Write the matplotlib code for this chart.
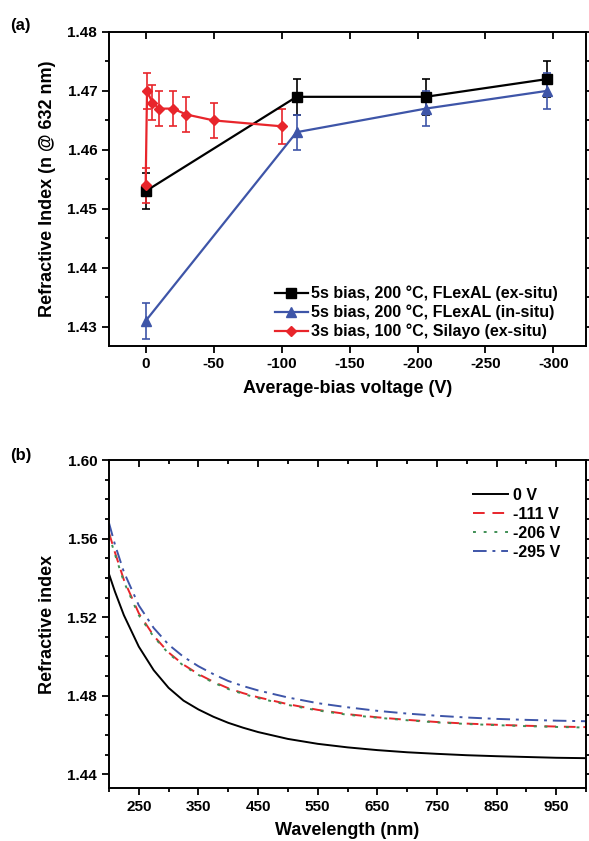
import matplotlib
matplotlib.use("Agg")
import matplotlib.pyplot as plt
from matplotlib.ticker import MultipleLocator, FixedLocator

plt.rcParams['font.family'] = ['Liberation Sans', 'DejaVu Sans']
plt.rcParams['font.weight'] = 'bold'
plt.rcParams['axes.unicode_minus'] = False

# ---------------- Panel (a) data ----------------
flexal_ex_v = [0, -111, -206, -295]
flexal_ex_n = [1.453, 1.469, 1.469, 1.472]
flexal_ex_err = [0.003, 0.003, 0.003, 0.003]

flexal_in_v = [0, -111, -206, -295]
flexal_in_n = [1.431, 1.463, 1.467, 1.470]
flexal_in_err = [0.003, 0.003, 0.003, 0.003]

silayo_v = [0, -1, -5, -10, -20, -30, -50, -100]
silayo_n = [1.454, 1.470, 1.468, 1.467, 1.467, 1.466, 1.465, 1.464]
silayo_err = [0.003, 0.003, 0.003, 0.003, 0.003, 0.003, 0.003, 0.003]

labels_a = ["5s bias, 200 \u00b0C, FLexAL (ex-situ)",
            "5s bias, 200 \u00b0C, FLexAL (in-situ)",
            "3s bias, 100 \u00b0C, Silayo (ex-situ)"]
xticks_a = [0, -50, -100, -150, -200, -250, -300]
yticks_a = [1.43, 1.44, 1.45, 1.46, 1.47, 1.48]

# ---------------- Panel (b) data ----------------
wavelength = [200, 210, 225, 250, 275, 300, 325, 350, 375, 400, 425, 450, 500,
              550, 600, 650, 700, 750, 800, 850, 900, 950, 1000]
n_0V = [1.542, 1.533, 1.521, 1.505, 1.493, 1.484, 1.4775, 1.473, 1.4693, 1.4662,
        1.4637, 1.4615, 1.458, 1.4555, 1.4537, 1.4523, 1.4512, 1.4504, 1.4497,
        1.4492, 1.4488, 1.4484, 1.4482]
n_111V = [1.563, 1.553, 1.539, 1.522, 1.5105, 1.502, 1.4958, 1.491, 1.4871,
          1.4838, 1.4813, 1.4792, 1.4757, 1.4728, 1.4706, 1.469, 1.4677, 1.4666,
          1.4658, 1.4652, 1.4647, 1.4643, 1.4640]
n_206V = [1.562, 1.552, 1.538, 1.521, 1.510, 1.5015, 1.4953, 1.4906, 1.4867,
          1.4834, 1.4809, 1.4788, 1.4753, 1.4725, 1.4703, 1.4688, 1.4675, 1.4664,
          1.4656, 1.4650, 1.4645, 1.4641, 1.4638]
n_295V = [1.568, 1.557, 1.543, 1.526, 1.5145, 1.506, 1.4998, 1.495, 1.4910,
          1.4875, 1.4849, 1.4827, 1.4791, 1.4762, 1.4741, 1.4723, 1.4709, 1.4698,
          1.4689, 1.4682, 1.4677, 1.4673, 1.4670]
labels_b = ["0 V", "-111 V", "-206 V", "-295 V"]
xticks_b = [250, 350, 450, 550, 650, 750, 850, 950]
yticks_b = [1.44, 1.48, 1.52, 1.56, 1.60]

BLACK = "#000000"
BLUE = "#3E55A8"
RED = "#E8252B"
GREEN = "#3F8F55"

fig = plt.figure(figsize=(5.89, 8.41), dpi=100)

# ---------------- Panel (a) ----------------
ax1 = fig.add_axes([0.185, 0.589, 0.81, 0.373])
common = dict(lw=1.6, capsize=3, elinewidth=1.2, capthick=1.2, markersize=6.5)
c1 = ax1.errorbar(flexal_ex_v, flexal_ex_n, yerr=flexal_ex_err, color=BLACK,
                  marker='s', label=labels_a[0], **common)
c2 = ax1.errorbar(flexal_in_v, flexal_in_n, yerr=flexal_in_err, color=BLUE,
                  marker='^', label=labels_a[1], **common)
c3 = ax1.errorbar(silayo_v, silayo_n, yerr=silayo_err, color=RED,
                  marker='D', label=labels_a[2], **dict(common, markersize=5.5))
ax1.set_xlim(27, -324)
ax1.set_ylim(1.4268, 1.48)
ax1.xaxis.set_major_locator(FixedLocator(xticks_a))
ax1.set_xticklabels([str(v) for v in xticks_a])
ax1.yaxis.set_major_locator(FixedLocator(yticks_a))
ax1.set_yticklabels(["%.2f" % v for v in yticks_a])
ax1.yaxis.set_minor_locator(MultipleLocator(0.005))
ax1.set_xlabel("Average-bias voltage (V)", fontsize=13, fontweight='bold', labelpad=6)
ax1.set_ylabel("Refractive Index (n @ 632 nm)", fontsize=13, fontweight='bold', labelpad=8)
leg1 = ax1.legend([c1.lines[0], c2.lines[0], c3.lines[0]], labels_a,
                  loc='lower right', frameon=False, fontsize=11.5,
                  handlelength=2.1, handletextpad=0.2, labelspacing=0.22,
                  borderaxespad=0.0, bbox_to_anchor=(0.955, 0.0))
fig.text(0.017, 0.970, "(a)", fontsize=12, fontweight='bold', va='center')

# ---------------- Panel (b) ----------------
ax2 = fig.add_axes([0.185, 0.063, 0.81, 0.390])
ax2.plot(wavelength, n_0V, color=BLACK, lw=1.4, ls='-', label=labels_b[0])
ax2.plot(wavelength, n_111V, color=RED, lw=1.4, ls=(0, (6, 4)), label=labels_b[1])
ax2.plot(wavelength, n_206V, color=GREEN, lw=1.4, ls=(0, (1.5, 4)), label=labels_b[2])
ax2.plot(wavelength, n_295V, color=BLUE, lw=1.4, ls=(0, (7, 3, 1.5, 3)), label=labels_b[3])
ax2.set_xlim(200, 1000)
ax2.set_ylim(1.433, 1.60)
ax2.xaxis.set_major_locator(FixedLocator(xticks_b))
ax2.xaxis.set_minor_locator(MultipleLocator(50))
ax2.yaxis.set_major_locator(FixedLocator(yticks_b))
ax2.set_yticklabels(["%.2f" % v for v in yticks_b])
ax2.yaxis.set_minor_locator(MultipleLocator(0.01))
ax2.set_xlabel("Wavelength (nm)", fontsize=13, fontweight='bold', labelpad=6)
ax2.set_ylabel("Refractive index", fontsize=13, fontweight='bold', labelpad=8)
ax2.legend(loc='upper right', frameon=False, fontsize=11.5,
           handlelength=2.2, handletextpad=0.3, labelspacing=0.25,
           bbox_to_anchor=(0.975, 0.96))
fig.text(0.017, 0.458, "(b)", fontsize=12, fontweight='bold', va='center')

for ax in (ax1, ax2):
    for s in ax.spines.values():
        s.set_linewidth(1.4)
    ax.tick_params(which='both', labelsize=11, width=1.3)
    ax.tick_params(axis='both', which='major', length=5)
    ax.tick_params(axis='both', which='minor', length=3)
    ax.tick_params(which='both', top=True, right=True)
    ax.tick_params(axis='x', which='both', direction='out')
    ax.tick_params(axis='y', which='both', direction='out')
    for lab in ax.get_xticklabels() + ax.get_yticklabels():
        lab.set_fontweight('bold')
    # top and right ticks point inward
    for t in ax.xaxis.get_major_ticks() + ax.xaxis.get_minor_ticks():
        t.tick2line.set_marker(3)
    for t in ax.yaxis.get_major_ticks() + ax.yaxis.get_minor_ticks():
        t.tick2line.set_marker(1)

fig.savefig("out.png", dpi=100)
